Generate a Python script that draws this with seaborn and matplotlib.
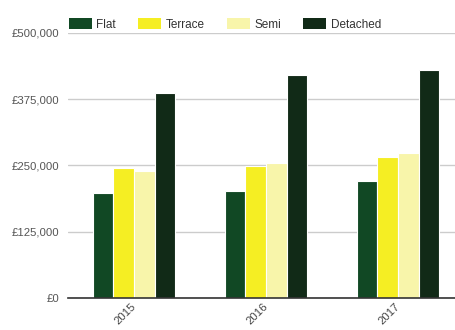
import matplotlib
matplotlib.use("Agg")
import matplotlib.pyplot as plt
import matplotlib.ticker as mticker
import seaborn as sns
import pandas as pd

years = ["2015", "2016", "2017"]
types = ["Flat", "Terrace", "Semi", "Detached"]
flat = [198000, 202000, 221000]
terrace = [245000, 249000, 266000]
semi = [239500, 254500, 273500]
detached = [386500, 420500, 430000]
colors = ["#114824", "#f5ee23", "#f8f5aa", "#112a17"]
yticks = [0, 125000, 250000, 375000, 500000]

rows = []
for t, vals in zip(types, [flat, terrace, semi, detached]):
    for y, v in zip(years, vals):
        rows.append({"year": y, "type": t, "price": v})
df = pd.DataFrame(rows)

sns.set_theme(style="white")
plt.rcParams["font.family"] = ["Liberation Sans", "DejaVu Sans"]

fig = plt.figure(figsize=(4.55, 3.3), dpi=100)
ax = fig.add_axes([68 / 455, 32 / 330, 1 - 68 / 455, (298 - 32.7) / 330])

sns.barplot(data=df, x="year", y="price", hue="type", order=years,
            hue_order=types, palette=colors, width=0.625, ax=ax,
            edgecolor="white", linewidth=0.8, saturation=1, errorbar=None,
            legend=True)

ax.set_xlim(-0.5, 2.432)
ax.set_ylim(0, 500000)
ax.set_yticks(yticks)
ax.yaxis.set_major_formatter(mticker.FuncFormatter(lambda v, p: "£{:,.0f}".format(v)))
ax.grid(axis="y", color="#cccccc", linewidth=1)
ax.set_axisbelow(True)
for s in ["top", "right", "left"]:
    ax.spines[s].set_visible(False)
ax.spines["bottom"].set_color("#333333")
ax.spines["bottom"].set_linewidth(1.2)
ax.set_xlabel("")
ax.set_ylabel("")
ax.tick_params(axis="y", length=0, pad=6, labelsize=8.2, labelcolor="#555555")
ax.tick_params(axis="x", length=0, pad=5, labelsize=8.2, labelcolor="#444444")
for lab in ax.get_xticklabels():
    lab.set_rotation(45)
    lab.set_ha("right")
    lab.set_va("center")
    lab.set_rotation_mode("anchor")

handles, labels = ax.get_legend_handles_labels()
ax.get_legend().remove()
for h in handles:
    h.set_edgecolor("none")
fig.legend(handles, labels, loc="upper left", bbox_to_anchor=(64 / 455, 1 - 13 / 330),
           ncol=4, frameon=False, fontsize=8.5, handlelength=1.95, handleheight=1.15,
           handletextpad=0.4, columnspacing=1.85, labelcolor="#333333",
           borderaxespad=0)

fig.savefig("out.png", dpi=100)
